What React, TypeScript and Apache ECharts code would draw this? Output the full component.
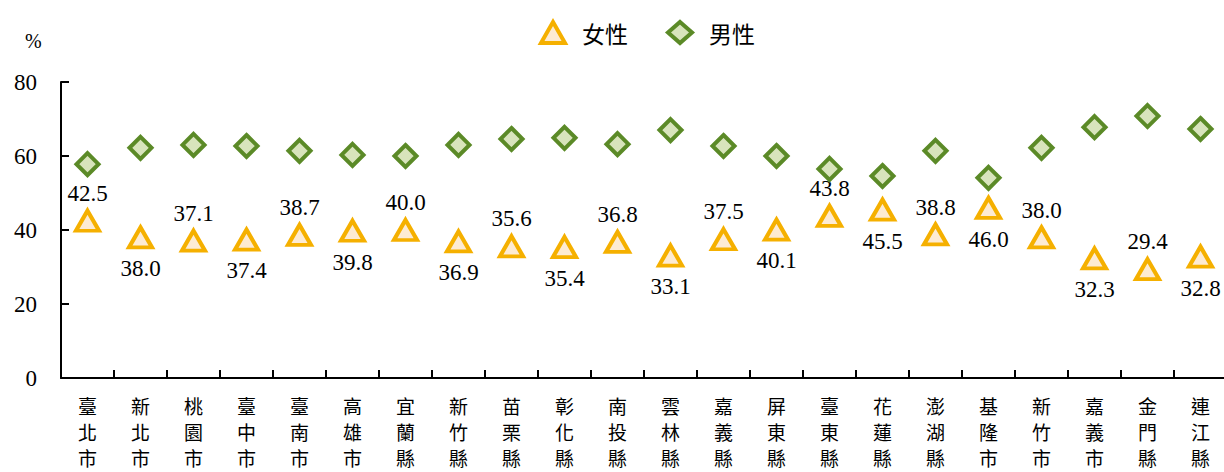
import React, { useEffect, useRef } from "react";
import * as echarts from "echarts";

const categories = ["臺北市","新北市","桃園市","臺中市","臺南市","高雄市","宜蘭縣","新竹縣","苗栗縣","彰化縣","南投縣","雲林縣","嘉義縣","屏東縣","臺東縣","花蓮縣","澎湖縣","基隆市","新竹市","嘉義市","金門縣","連江縣"];
const femaleValues = [42.5,38.0,37.1,37.4,38.7,39.8,40.0,36.9,35.6,35.4,36.8,33.1,37.5,40.1,43.8,45.5,38.8,46.0,38.0,32.3,29.4,32.8];
const maleValues = [57.8,62.2,63.0,62.7,61.4,60.3,60.0,63.0,64.6,64.9,63.2,67.0,62.7,60.0,56.5,54.6,61.4,54.1,62.2,67.8,70.8,67.3];
const yTicks = [0, 20, 40, 60, 80];

const serif = "'Liberation Serif', 'Times New Roman', serif";
const cjk = "'Noto Sans CJK TC', 'Noto Sans CJK SC', sans-serif";

export default function App() {
  const ref = useRef<HTMLDivElement>(null);
  useEffect(() => {
    if (!ref.current) return;
    const chart = echarts.init(ref.current, null, { renderer: "svg" });
    chart.setOption({
      animation: false,
      backgroundColor: "#ffffff",
      legend: {
        top: 15,
        left: 534,
        itemGap: 38,
        itemWidth: 24,
        itemHeight: 21,
        textStyle: { fontFamily: cjk, fontSize: 23, color: "#000", padding: [0, 0, 0, 12] },
        data: [
          { name: "女性", itemStyle: { color: "#FDEBD3", borderColor: "#F5B000", borderWidth: 4 } },
          { name: "男性", itemStyle: { color: "#D8E4BC", borderColor: "#5B8A27", borderWidth: 4 } },
        ],
      },
      graphic: [
        { type: "text", left: 25, top: 31, style: { text: "%", font: `20px ${serif}`, fill: "#000" } },
      ],
      grid: { left: 61, top: 82, width: 1166, height: 296, containLabel: false, outerBoundsMode: "none" },
      xAxis: {
        type: "category",
        data: categories,
        boundaryGap: true,
        axisLine: { show: true, lineStyle: { color: "#000", width: 2 } },
        axisTick: { show: true, inside: true, length: 8, lineStyle: { color: "#000", width: 2 } },
        axisLabel: {
          interval: 0,
          margin: 14,
          fontFamily: cjk,
          fontSize: 19,
          lineHeight: 26,
          color: "#000",
          formatter: (v: string) => v.split("").join("\n"),
        },
      },
      yAxis: {
        type: "value",
        min: 0,
        max: 80,
        interval: 20,
        axisLine: { show: true, lineStyle: { color: "#000", width: 2 } },
        axisTick: { show: true, inside: true, length: 8, lineStyle: { color: "#000", width: 2 } },
        splitLine: { show: false },
        axisLabel: {
          margin: 24,
          fontFamily: serif,
          fontSize: 23,
          color: "#000",
          formatter: (v: number) => (yTicks.includes(v) ? String(v) : ""),
        },
      },
      series: [
        {
          name: "女性",
          type: "scatter",
          symbol: "triangle",
          symbolSize: [23, 20],
          itemStyle: { color: "#FDEBD3", borderColor: "#F5B000", borderWidth: 4, opacity: 1 },
          data: femaleValues.map((v, i) => ({
            value: v,
            label: {
              show: true,
              position: i % 2 === 0 ? "top" : "bottom",
              distance: i % 2 === 0 ? 4 : 8,
              formatter: v.toFixed(1),
              fontFamily: serif,
              fontSize: 23,
              color: "#000",
            },
          })),
          z: 3,
        },
        {
          name: "男性",
          type: "scatter",
          symbol: "diamond",
          symbolSize: [22, 22],
          itemStyle: { color: "#D8E4BC", borderColor: "#5B8A27", borderWidth: 4, opacity: 1 },
          data: maleValues,
          z: 4,
        },
      ],
    });
    return () => chart.dispose();
  }, []);
  return (
    <div
      ref={ref}
      style={{ position: "absolute", left: 0, top: 0, width: 1224, height: 472 }}
    />
  );
}
